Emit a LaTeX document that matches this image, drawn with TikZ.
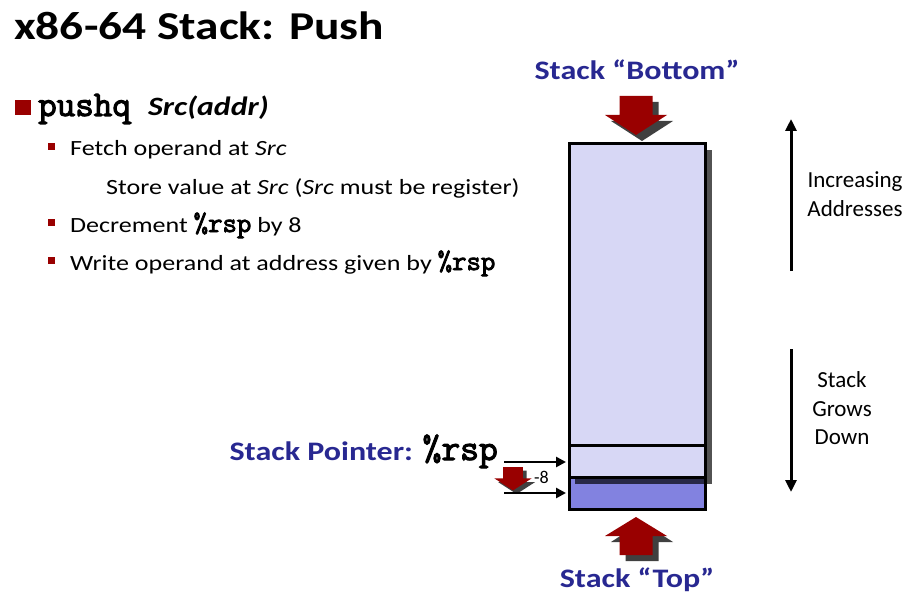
\documentclass[tikz,border=0pt]{standalone}
\usepackage{fontspec}
\setmainfont{Carlito}[FakeStretch=1.2]
\newfontfamily\sidefont{Carlito}
\newfontfamily\codefont{Latin Modern Mono}[FakeBold=3]
\definecolor{arrowred}{RGB}{153,0,0}
\definecolor{arrowshadow}{RGB}{64,64,64}
\definecolor{labelblue}{RGB}{40,40,145}
\definecolor{celllight}{RGB}{215,215,245}
\definecolor{celldark}{RGB}{130,130,224}
\tikzset{
  titletext/.style={anchor=base west, inner sep=0pt, font=\bfseries\fontsize{39.5}{46}\selectfont},
  bodytext/.style={anchor=base west, inner sep=0pt, font=\fontsize{21.7}{26}\selectfont},
  sidetext/.style={anchor=base, inner sep=0pt, font=\sidefont\fontsize{23}{28}\selectfont},
  bluelabel/.style={inner sep=0pt, text=labelblue, font=\bfseries\fontsize{26.7}{32}\selectfont},
  mainbullet/.style={fill=arrowred},
  subbullet/.style={fill=arrowred},
  cellbox/.style={draw=black, line width=3pt},
  pointerarrow/.style={line width=2.5pt, -{Triangle[length=10pt,width=10pt]}},
  sidearrow/.style={line width=3pt, -{Triangle[length=12pt,width=11pt]}},
  blockdown/.pic={
    \fill[arrowshadow] (-10.5,6) -- (22.5,6) -- (22.5,25) -- (37,25) -- (6,45) -- (-25,25) -- (-10.5,25) -- cycle;
    \fill[arrowred] (-16.5,0) -- (16.5,0) -- (16.5,19) -- (31,19) -- (0,39) -- (-31,19) -- (-16.5,19) -- cycle;
  },
  blockup/.pic={
    \fill[arrowshadow] (-10.5,6) -- (22.5,6) -- (22.5,-13) -- (37,-13) -- (6,-33) -- (-25,-13) -- (-10.5,-13) -- cycle;
    \fill[arrowred] (-16.5,0) -- (16.5,0) -- (16.5,-19) -- (31,-19) -- (0,-38) -- (-31,-19) -- (-16.5,-19) -- cycle;
  }
}
\usetikzlibrary{arrows.meta}
\begin{document}
\begin{tikzpicture}[x=1pt,y=-1pt]
\useasboundingbox[fill=white] (0,0) rectangle (909,596);

% title
\node[titletext] (title) at (14,40) {x86-64 Stack: Push};

% bullets
\fill[mainbullet] (15,100) rectangle (31,115);
\node[anchor=base west, inner sep=0pt, font=\codefont\fontsize{36}{38}\selectfont] (pushq) at (38,116) {pushq};
\node[anchor=base west, inner sep=0pt, font=\bfseries\itshape\fontsize{26.5}{32}\selectfont] (src) at (148,116) {Src(addr)};

\fill[subbullet] (48,143) rectangle (55,150);
\node[bodytext] (l1) at (70,156) {Fetch operand at \textit{Src}};
\node[bodytext] (l2) at (106,194) {Store value at \textit{Src} (\textit{Src} must be register)};
\fill[subbullet] (48,219) rectangle (55,226);
\node[bodytext] (l3) at (70,232) {Decrement {\codefont\fontsize{28}{30}\selectfont\%rsp} by 8};
\fill[subbullet] (48,257) rectangle (55,264);
\node[bodytext] (l4) at (70,270) {Write operand at address given by {\codefont\fontsize{28}{30}\selectfont\%rsp}};

% stack
\draw[cellbox, fill=celldark] (569,477) rectangle (705,509);
\fill[black, opacity=0.68] (575,150) rectangle (712,484);
\draw[cellbox, fill=celllight] (569,144) rectangle (705,477);
\draw[cellbox] (569,445) -- (705,445);
\coordinate (oldtop) at (566,462);
\coordinate (newtop) at (566,493);

% stack bottom / top
\node[bluelabel, anchor=base] (bottomlbl) at (637,80) {Stack “Bottom”};
\pic at (636,96) {blockdown};
\pic at (636,555) {blockup};
\node[bluelabel, anchor=base] (toplbl) at (637,587) {Stack “Top”};

% stack pointer
\node[bluelabel, anchor=base east] (splbl) at (498,460) {Stack Pointer: {\color{black}\codefont\fontsize{36.5}{38}\selectfont\%rsp}};
\coordinate (p1) at (504,462);
\coordinate (p2) at (504,493);
\draw[pointerarrow] (p1) -- (oldtop);
\pic[scale=0.6] at (513,467) {blockdown};
\draw[pointerarrow] (p2) -- (newtop);
\node[anchor=west, inner sep=0pt, font=\sidefont\fontsize{18}{20}\selectfont] (minus8) at (534,477) {-8};

% side arrows
\coordinate (ua) at (791,271);
\coordinate (ub) at (791,119);
\draw[sidearrow] (ua) -- (ub);
\node[sidetext] (inc1) at (855,187) {Increasing};
\node[sidetext] (inc2) at (855,216) {Addresses};
\coordinate (da) at (791,349);
\coordinate (db) at (791,492);
\draw[sidearrow] (da) -- (db);
\node[sidetext] (gr1) at (842,387) {Stack};
\node[sidetext] (gr2) at (842,416) {Grows};
\node[sidetext] (gr3) at (842,444) {Down};
\end{tikzpicture}
\end{document}
